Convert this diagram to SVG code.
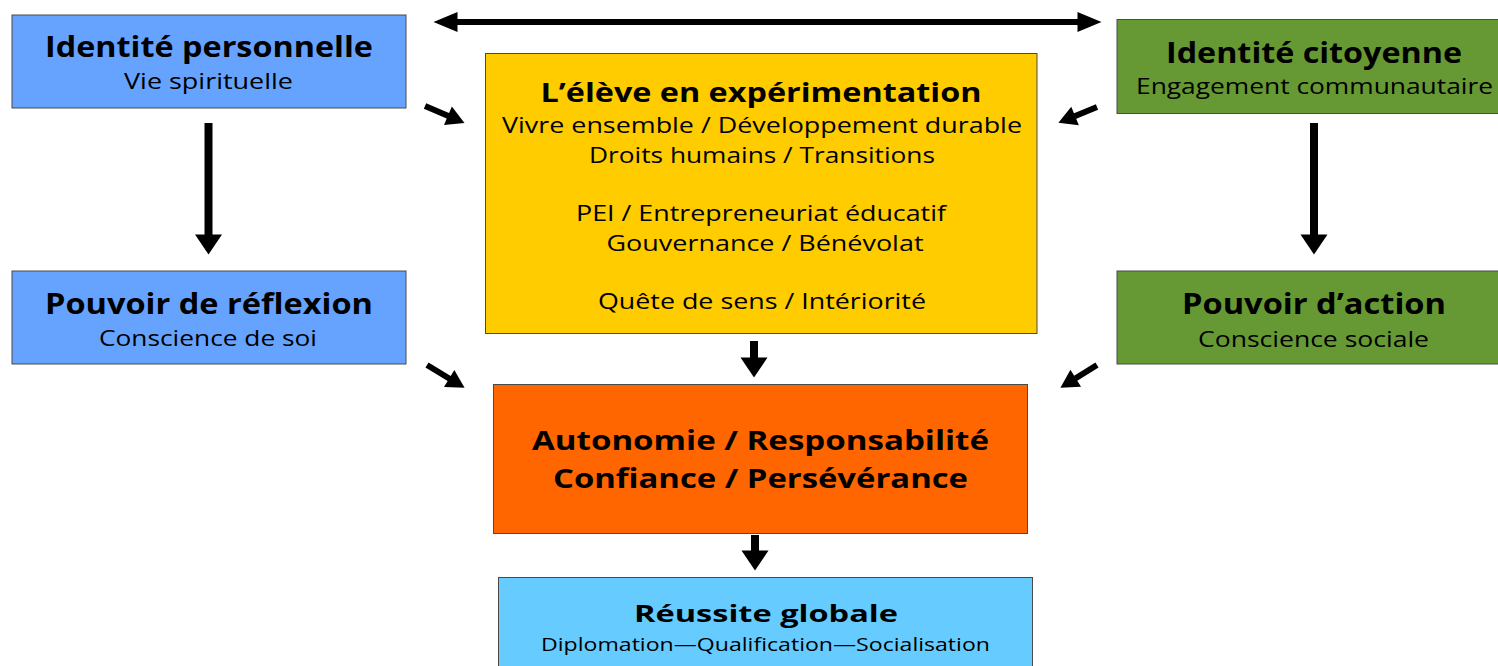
<svg xmlns="http://www.w3.org/2000/svg" width="1498" height="666" viewBox="0 0 1498 666">
<style>
.box{stroke:#4a4a4a;stroke-width:1}
.t{font-family:"Open Sans","Noto Sans","DejaVu Sans",sans-serif;font-weight:700;font-size:28px;fill:#000;text-anchor:middle}
.s{font-family:"Open Sans","Noto Sans","DejaVu Sans",sans-serif;font-size:21.5px;fill:#000;text-anchor:middle}
.c{stroke:#000;fill:none}
.v{stroke-width:8}
.h{stroke-width:6}
.d{stroke-width:6}
</style>
<defs>
<marker id="mV" markerUnits="userSpaceOnUse" markerWidth="21" markerHeight="27" refX="0.5" refY="13.5" orient="auto-start-reverse" overflow="visible">
<path d="M0,0 L20,13.5 L0,27 Z" fill="#000"/>
</marker>
<marker id="mH" markerUnits="userSpaceOnUse" markerWidth="25" markerHeight="20" refX="0.5" refY="10" orient="auto-start-reverse" overflow="visible">
<path d="M0,0 L24,10 L0,20 Z" fill="#000"/>
</marker>
<marker id="mD" markerUnits="userSpaceOnUse" markerWidth="19" markerHeight="20" refX="0.5" refY="10" orient="auto-start-reverse" overflow="visible">
<path d="M0,0 L18,10 L0,20 Z" fill="#000"/>
</marker>
</defs>
<g id="connectors">
<line class="c h" x1="457" y1="22" x2="1078" y2="22" marker-start="url(#mH)" marker-end="url(#mH)"/>
<line class="c v" x1="208.5" y1="123" x2="208.5" y2="235" marker-end="url(#mV)"/>
<line class="c v" x1="1314" y1="123" x2="1314" y2="235" marker-end="url(#mV)"/>
<line class="c d" x1="425" y1="106" x2="448.4" y2="116" marker-end="url(#mD)"/>
<line class="c d" x1="1097" y1="107" x2="1074.6" y2="116.2" marker-end="url(#mD)"/>
<line class="c d" x1="427" y1="365" x2="449.6" y2="378.7" marker-end="url(#mD)"/>
<line class="c d" x1="1097" y1="365" x2="1075.3" y2="378.5" marker-end="url(#mD)"/>
<line class="c v" x1="754" y1="341" x2="754" y2="358" marker-end="url(#mV)"/>
<line class="c v" x1="755" y1="535" x2="755" y2="551" marker-end="url(#mV)"/>
</g>
<g id="identite-personnelle">
<rect class="box" x="12" y="15" width="394" height="93" fill="#66A3FF"/>
<text class="t" x="209" y="57" textLength="328" lengthAdjust="spacingAndGlyphs">Identité personnelle</text>
<text class="s" x="208.5" y="89" textLength="169" lengthAdjust="spacingAndGlyphs">Vie spirituelle</text>
</g>
<g id="identite-citoyenne">
<rect class="box" x="1117" y="19.5" width="390" height="94" fill="#669933"/>
<text class="t" x="1314" y="63" textLength="296" lengthAdjust="spacingAndGlyphs">Identité citoyenne</text>
<text class="s" x="1314.5" y="94" textLength="357" lengthAdjust="spacingAndGlyphs">Engagement communautaire</text>
</g>
<g id="eleve">
<rect class="box" x="485.5" y="53.5" width="551.5" height="280" fill="#FFCC00"/>
<text class="t" x="761" y="101.5" style="font-size:27px" textLength="441" lengthAdjust="spacingAndGlyphs">L’élève en expérimentation</text>
<text class="s" x="762" y="133" textLength="520" lengthAdjust="spacingAndGlyphs">Vivre ensemble / Développement durable</text>
<text class="s" x="762" y="162.5" textLength="346" lengthAdjust="spacingAndGlyphs">Droits humains / Transitions</text>
<text class="s" x="761" y="221" textLength="370" lengthAdjust="spacingAndGlyphs">PEI / Entrepreneuriat éducatif</text>
<text class="s" x="765" y="251" textLength="317" lengthAdjust="spacingAndGlyphs">Gouvernance / Bénévolat</text>
<text class="s" x="762" y="309" textLength="328" lengthAdjust="spacingAndGlyphs">Quête de sens / Intériorité</text>
</g>
<g id="pouvoir-reflexion">
<rect class="box" x="12" y="271" width="394" height="93" fill="#66A3FF"/>
<text class="t" x="209" y="314" textLength="328" lengthAdjust="spacingAndGlyphs">Pouvoir de réflexion</text>
<text class="s" x="208" y="346" textLength="218" lengthAdjust="spacingAndGlyphs">Conscience de soi</text>
</g>
<g id="pouvoir-action">
<rect class="box" x="1117" y="271" width="390" height="93" fill="#669933"/>
<text class="t" x="1314" y="314" textLength="264" lengthAdjust="spacingAndGlyphs">Pouvoir d’action</text>
<text class="s" x="1313.5" y="346.5" textLength="231" lengthAdjust="spacingAndGlyphs">Conscience sociale</text>
</g>
<g id="autonomie">
<rect class="box" x="493.5" y="384.5" width="534" height="149" fill="#FF6600" stroke="#222"/>
<text class="t" x="760.5" y="450" style="font-size:26px" textLength="457" lengthAdjust="spacingAndGlyphs">Autonomie / Responsabilité</text>
<text class="t" x="760.5" y="488" style="font-size:26px" textLength="415" lengthAdjust="spacingAndGlyphs">Confiance / Persévérance</text>
</g>
<g id="reussite">
<rect class="box" x="498.5" y="577.5" width="534" height="95" fill="#66CCFF"/>
<text class="t" x="766" y="622" style="font-size:24px" textLength="264" lengthAdjust="spacingAndGlyphs">Réussite globale</text>
<text class="s" x="765.5" y="651" style="font-size:19px" textLength="449" lengthAdjust="spacingAndGlyphs">Diplomation—Qualification—Socialisation</text>
</g>
</svg>
